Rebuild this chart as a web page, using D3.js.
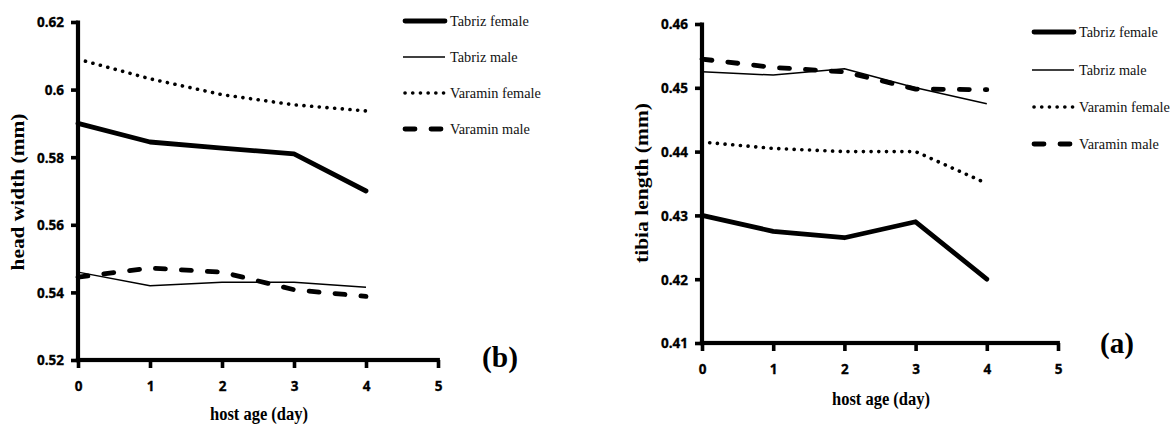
<!DOCTYPE html>
<html>
<head>
<meta charset="utf-8">
<script src="https://cdn.jsdelivr.net/npm/d3@7"></script>
<style>
  html, body { margin: 0; padding: 0; background: #fff; }
  svg { display: block; }
</style>
</head>
<body>
<svg id="chart" width="1172" height="425"></svg>
<script>
// ---- data ----
const hostAge = [0, 1, 2, 3, 4];
const xTicks = [0, 1, 2, 3, 4, 5];
const seriesNames = ["Tabriz female", "Tabriz male", "Varamin female", "Varamin male"];

// (b) head width (mm)
const headTabrizFemale  = [0.590, 0.5845, 0.5827, 0.5810, 0.5700];
const headTabrizMale    = [0.5460, 0.5420, 0.5430, 0.5430, 0.5415];
const headVaraminFemale = [0.6090, 0.6032, 0.5985, 0.5955, 0.5937];
const headVaraminMale   = [0.5445, 0.5472, 0.5460, 0.5408, 0.5388];
const headTicks = [0.52, 0.54, 0.56, 0.58, 0.60, 0.62];
const headTickLabels = ["0.52", "0.54", "0.56", "0.58", "0.6", "0.62"];

// (a) tibia length (mm)
const tibiaTabrizFemale  = [0.4300, 0.4275, 0.4265, 0.4290, 0.4200];
const tibiaTabrizMale    = [0.4525, 0.4520, 0.4530, 0.4500, 0.4475];
const tibiaVaraminFemale = [0.4415, 0.4405, 0.4400, 0.4400, 0.4350];
const tibiaVaraminMale   = [0.4545, 0.4532, 0.4525, 0.4498, 0.4497];
const tibiaTicks = [0.41, 0.42, 0.43, 0.44, 0.45, 0.46];
const tibiaTickLabels = ["0.41", "0.42", "0.43", "0.44", "0.45", "0.46"];

// ---- styles ----
const styles = {
  "Tabriz female":  { width: 4.8, dash: null, cap: "round" },
  "Tabriz male":    { width: 1.5, dash: null, cap: "butt" },
  "Varamin female": { width: 3.6, dash: "0.1 7.6", cap: "round" },
  "Varamin male":   { width: 4.8, dash: "10 16", cap: "round" }
};

const svg = d3.select("#chart");
const serif = "'Liberation Serif', 'Times New Roman', serif";
const sans = "'Open Sans', 'Noto Sans', sans-serif";

function styleTickText(sel) {
  sel.attr("font-family", sans).attr("font-weight", "bold")
    .attr("font-size", 15).attr("fill", "#000")
    .attr("stroke", "#000").attr("stroke-width", 0.35)
    .each(function () {
      const w = this.getComputedTextLength();
      d3.select(this).attr("textLength", w * 0.9).attr("lengthAdjust", "spacingAndGlyphs");
    });
}

function drawPanel(cfg) {
  const x = d3.scaleLinear().domain([0, 5]).range([cfg.x0, cfg.x1]);
  const y = d3.scaleLinear().domain([cfg.ticks[0], cfg.ticks[cfg.ticks.length - 1]]).range([cfg.y0, cfg.y1]);
  const g = svg.append("g");

  // y axis (labels + ticks via d3.axis)
  const yAxis = d3.axisLeft(y).tickValues(cfg.ticks)
    .tickFormat((d, i) => cfg.tickLabels[i]).tickSizeOuter(0).tickSize(0).tickPadding(14);
  const ya = g.append("g").attr("transform", `translate(${cfg.x0},0)`).call(yAxis);
  ya.select(".domain").remove();
  ya.selectAll(".tick line").remove();
  ya.selectAll(".tick").append("rect")
    .attr("x", -7).attr("y", -1.8).attr("width", 7).attr("height", 3.6).attr("fill", "#000");
  styleTickText(ya.selectAll(".tick text"));

  // x axis
  const xAxis = d3.axisBottom(x).tickValues(xTicks).tickFormat(d3.format("d"))
    .tickSizeOuter(0).tickSize(0).tickPadding(20);
  const xa = g.append("g").attr("transform", `translate(0,${cfg.y0})`).call(xAxis);
  xa.select(".domain").remove();
  xa.selectAll(".tick line").remove();
  xa.selectAll(".tick").append("rect")
    .attr("x", -1.8).attr("y", 0).attr("width", 3.6).attr("height", 8).attr("fill", "#000");
  styleTickText(xa.selectAll(".tick text"));

  // axis lines (filled rects)
  g.append("rect").attr("x", cfg.x0 - 2.1).attr("y", cfg.y1 - 1.5)
    .attr("width", 4.2).attr("height", cfg.y0 - cfg.y1 + 3.6).attr("fill", "#000");
  g.append("rect").attr("x", cfg.x0 - 2.1).attr("y", cfg.y0 - 2.1)
    .attr("width", cfg.x1 - cfg.x0 + 4).attr("height", 4.2).attr("fill", "#000");

  // lines
  const line = d3.line().x((d, i) => x(hostAge[i])).y(d => y(d)).curve(d3.curveLinear);
  cfg.series.forEach((vals, k) => {
    const st = styles[seriesNames[k]];
    g.append("path").attr("d", line(vals)).attr("fill", "none").attr("stroke", "#000")
      .attr("stroke-width", st.width).attr("stroke-dasharray", st.dash)
      .attr("stroke-linecap", st.cap).attr("stroke-linejoin", "round");
  });

  // axis titles
  g.append("text")
    .attr("transform", `translate(${cfg.yTitleX},${cfg.yTitleY}) rotate(-90)`)
    .attr("text-anchor", "middle").attr("dominant-baseline", "central")
    .attr("font-family", serif).attr("font-weight", "bold").attr("font-size", 18)
    .attr("textLength", cfg.yTitleLen).attr("lengthAdjust", "spacingAndGlyphs")
    .text(cfg.yTitle);
  g.append("text")
    .attr("x", cfg.xTitleX).attr("y", cfg.xTitleY)
    .attr("text-anchor", "middle")
    .attr("font-family", serif).attr("font-weight", "bold").attr("font-size", 18)
    .attr("textLength", 98).attr("lengthAdjust", "spacingAndGlyphs")
    .text("host age (day)");

  // legend
  const lg = g.append("g");
  seriesNames.forEach((name, k) => {
    const st = styles[name];
    const ly = cfg.legendY[k];
    lg.append("line").attr("x1", cfg.legendX + (st.cap === "round" ? 2 : 0)).attr("x2", cfg.legendX + 42)
      .attr("y1", ly).attr("y2", ly).attr("stroke", "#000")
      .attr("stroke-width", st.width).attr("stroke-dasharray", st.dash)
      .attr("stroke-linecap", st.cap);
    lg.append("text").attr("x", cfg.legendX + 47).attr("y", ly + 5)
      .attr("font-family", serif).attr("font-size", 14.3).attr("fill", "#111")
      .text(name);
  });

  // panel label
  g.append("text").attr("x", cfg.panelX).attr("y", cfg.panelY)
    .attr("text-anchor", "middle").attr("font-family", serif).attr("font-weight", "bold")
    .attr("font-size", 30).attr("textLength", cfg.panelLen).attr("lengthAdjust", "spacingAndGlyphs")
    .text(cfg.panel);
}

drawPanel({
  x0: 78, x1: 438, y0: 360, y1: 22,
  ticks: headTicks, tickLabels: headTickLabels,
  series: [headTabrizFemale, headTabrizMale, headVaraminFemale, headVaraminMale],
  yTitle: "head width (mm)", yTitleX: 18, yTitleY: 192, yTitleLen: 157,
  xTitleX: 259, xTitleY: 420,
  legendX: 403, legendY: [21, 57, 93, 129],
  panel: "(b)", panelX: 500, panelY: 367, panelLen: 36
});

drawPanel({
  x0: 702, x1: 1058, y0: 343, y1: 24,
  ticks: tibiaTicks, tickLabels: tibiaTickLabels,
  series: [tibiaTabrizFemale, tibiaTabrizMale, tibiaVaraminFemale, tibiaVaraminMale],
  yTitle: "tibia length (mm)", yTitleX: 642, yTitleY: 183, yTitleLen: 160,
  xTitleX: 881, xTitleY: 405,
  legendX: 1032, legendY: [32, 70, 107, 144],
  panel: "(a)", panelX: 1117, panelY: 353, panelLen: 34
});
</script>
</body>
</html>
